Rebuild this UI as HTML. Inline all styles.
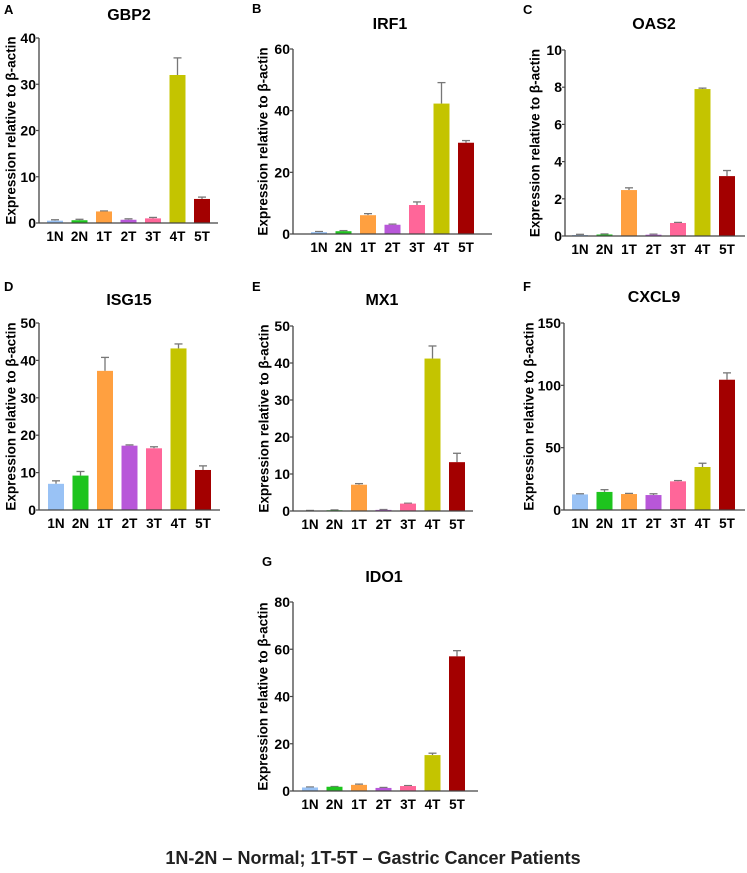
<!DOCTYPE html>
<html><head><meta charset="utf-8"><style>
html,body{margin:0;padding:0;background:#fff;}
svg{display:block;font-family:"Liberation Sans",Arial,sans-serif;}
</style></head><body>
<svg id="fig" width="747" height="873" viewBox="0 0 747 873"></svg>
<script>
const categories = ["1N","2N","1T","2T","3T","4T","5T"];
const colors = ["#99c2f5","#1ec41e","#ffa040","#b857d9","#ff6699","#c4c400","#a30000"];
const gbp2Values = [0.5,0.6,2.5,0.7,1.0,32,5.2];
const gbp2Errors = [0.2,0.2,0.1,0.2,0.2,3.7,0.4];
const irf1Values = [0.6,0.9,6.1,3.0,9.4,42.3,29.6];
const irf1Errors = [0.2,0.2,0.5,0.2,1.0,6.8,0.7];
const oas2Values = [0.05,0.08,2.47,0.07,0.70,7.90,3.22];
const oas2Errors = [0.04,0.03,0.12,0.03,0.03,0.05,0.3];
const isg15Values = [7,9.2,37.2,17.2,16.5,43.2,10.7];
const isg15Errors = [0.8,1.1,3.6,0.2,0.4,1.2,1.1];
const mx1Values = [0.1,0.2,7.1,0.3,2.0,41.2,13.2];
const mx1Errors = [0.05,0.1,0.3,0.1,0.1,3.4,2.4];
const cxcl9Values = [12.5,14.5,12.8,12,23,34.5,104.5];
const cxcl9Errors = [0.5,1.8,0.5,1,0.6,3,5.5];
const ido1Values = [1.5,1.8,2.6,1.3,2.1,15.2,57];
const ido1Errors = [0.2,0.1,0.3,0.2,0.2,0.8,2.4];
const gbp2Ticks = [0,10,20,30,40];
const irf1Ticks = [0,20,40,60];
const oas2Ticks = [0,2,4,6,8,10];
const isg15Ticks = [0,10,20,30,40,50];
const mx1Ticks = [0,10,20,30,40,50];
const cxcl9Ticks = [0,50,100,150];
const ido1Ticks = [0,20,40,60,80];

const NS="http://www.w3.org/2000/svg";
const svg=document.getElementById('fig');
function mk(tag,attrs,parent){const e=document.createElementNS(NS,tag);for(const k in attrs)e.setAttribute(k,attrs[k]);(parent||svg).appendChild(e);return e;}

const panels=[
 {id:"gbp2",letter:"A",title:"GBP2",vals:gbp2Values,errs:gbp2Errors,ticks:gbp2Ticks,ax:39,top:38,zero:223,first:47,end:218,tx:129,ty:20,lx:4,ly:14,ylx:11},
 {id:"irf1",letter:"B",title:"IRF1",vals:irf1Values,errs:irf1Errors,ticks:irf1Ticks,ax:293,top:49,zero:234,first:311,end:492,tx:390,ty:29,lx:252,ly:13,ylx:263},
 {id:"oas2",letter:"C",title:"OAS2",vals:oas2Values,errs:oas2Errors,ticks:oas2Ticks,ax:565,top:50,zero:236,first:572,end:745,tx:654,ty:29,lx:523,ly:14,ylx:535},
 {id:"isg15",letter:"D",title:"ISG15",vals:isg15Values,errs:isg15Errors,ticks:isg15Ticks,ax:39,top:323,zero:510,first:48,end:220,tx:129,ty:305,lx:4,ly:291,ylx:11},
 {id:"mx1",letter:"E",title:"MX1",vals:mx1Values,errs:mx1Errors,ticks:mx1Ticks,ax:293,top:326,zero:511,first:302,end:473,tx:382,ty:305,lx:252,ly:291,ylx:264},
 {id:"cxcl9",letter:"F",title:"CXCL9",vals:cxcl9Values,errs:cxcl9Errors,ticks:cxcl9Ticks,ax:564,top:323,zero:510,first:572,end:745,tx:654,ty:302,lx:523,ly:291,ylx:529},
 {id:"ido1",letter:"G",title:"IDO1",vals:ido1Values,errs:ido1Errors,ticks:ido1Ticks,ax:293,top:602,zero:791,first:302,end:478,tx:384,ty:582,lx:262,ly:566,ylx:263}
];

panels.forEach(p=>{
  const g=mk('g',{});
  
  
  const max=p.ticks[p.ticks.length-1];
  const y=v=>p.zero-(v/max)*(p.zero-p.top);
  const step=24.5, bw=16;
  const xLeft=i=>p.first+i*step;
  const L=mk('text',{x:p.lx,y:p.ly,'font-size':13,'font-weight':'bold',fill:'#000'},g);L.textContent=p.letter;
  
  
  const T=mk('text',{x:p.tx,y:p.ty,'font-size':16,'font-weight':'bold','text-anchor':'middle'},g);T.textContent=p.title;
  
  
  const cy=(p.top+p.zero)/2;
  const YL=mk('text',{x:p.ylx,y:cy,'font-size':13.5,'font-weight':'bold','text-anchor':'middle',transform:`rotate(-90 ${p.ylx} ${cy})`,'dominant-baseline':'central'},g);
  YL.textContent="Expression relative to β-actin";
  
  
  p.vals.forEach((v,i)=>{
    const x=xLeft(i), e=p.errs[i];
    const ey=y(v+e);
    const el=mk('line',{x1:x+bw/2,x2:x+bw/2,y1:y(v),y2:ey,stroke:'#777','stroke-width':1.3},g);
    
    
    const cap=mk('line',{x1:x+bw/2-4,x2:x+bw/2+4,y1:ey,y2:ey,stroke:'#777','stroke-width':1.3},g);
    
    
    const r=mk('rect',{x:x,y:y(v),width:bw,height:Math.max(0,p.zero-y(v)),fill:colors[i]},g);
    
    
    const lt=mk('text',{x:x+bw/2,y:p.zero+18,'font-size':13.5,'font-weight':'bold','text-anchor':'middle'},g);
    lt.textContent=categories[i];
    
    
  });
  const ya=mk('line',{x1:p.ax,x2:p.ax,y1:p.top,y2:p.zero,stroke:'#444','stroke-width':1.3},g);
  
  
  const xa=mk('line',{x1:p.ax,x2:p.end,y1:p.zero,y2:p.zero,stroke:'#444','stroke-width':1.3},g);
  
  
  p.ticks.forEach(t=>{
    const tl=mk('line',{x1:p.ax-3,x2:p.ax,y1:y(t),y2:y(t),stroke:'#444','stroke-width':1.2},g);
    
    
    const tt=mk('text',{x:p.ax-3,y:y(t)+5,'font-size':14,'font-weight':'bold','text-anchor':'end'},g);
    tt.textContent=t;
    
    
  });
});
const cap=mk('text',{x:373,y:864,'font-size':18,'font-weight':'bold','text-anchor':'middle',fill:'#222'});
cap.textContent="1N-2N – Normal; 1T-5T – Gastric Cancer Patients";


</script>
</body></html>
